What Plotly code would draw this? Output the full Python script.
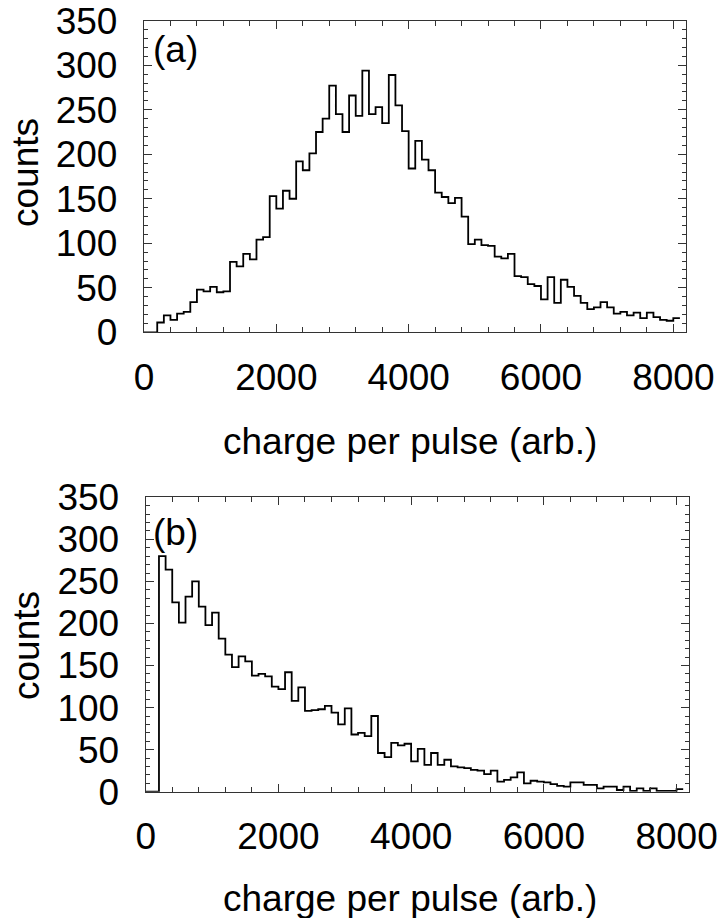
import numpy as np
import plotly.graph_objects as go

# ---- data (counts per 100-unit bin, starting at charge 0) ----
bin_width = 100
counts_a = [0, 0, 11, 19, 14, 21, 23, 34, 48, 46, 51, 45, 46, 79, 74, 88, 82, 104, 107,
            153, 139, 159, 150, 192, 182, 201, 225, 240, 277, 245, 225, 266, 243, 294,
            245, 253, 235, 289, 255, 226, 184, 215, 194, 182, 157, 152, 145, 151, 130,
            99, 104, 98, 97, 85, 83, 88, 63, 62, 54, 52, 37, 62, 33, 59, 51, 41, 33, 26,
            28, 34, 28, 21, 23, 19, 22, 16, 22, 17, 14, 13, 16]
counts_b = [0, 0, 280, 264, 225, 201, 232, 250, 220, 198, 213, 182, 163, 148, 161, 155,
            138, 140, 137, 125, 122, 142, 108, 124, 96, 97, 98, 102, 94, 80, 99, 68, 70,
            66, 90, 46, 41, 58, 55, 57, 36, 51, 32, 46, 32, 38, 30, 29, 28, 26, 25, 21,
            25, 12, 14, 17, 23, 10, 13, 12, 11, 9, 7, 6, 11, 11, 8, 8, 4, 6, 6, 2, 6, 1,
            4, 1, 4, 1, 1, 1, 3]
x_ticks = [0, 2000, 4000, 6000, 8000]
y_ticks = [0, 50, 100, 150, 200, 250, 300, 350]
panel_labels = ["(a)", "(b)"]
x_title = "charge per pulse (arb.)"
y_title = "counts"

W, H = 720, 918
FONT = "Liberation Sans, Arial, Helvetica, sans-serif"
FS = 37
AXC = "#333333"


def step_xy(counts):
    edges = np.arange(len(counts) + 1) * bin_width
    y = list(counts) + [counts[-1]]
    return edges, y


def px_dom_x(a, b):
    return [a / W, b / W]


def px_dom_y(top, bottom):
    return [1 - bottom / H, 1 - top / H]


fig = go.Figure()
for i, c in enumerate([counts_a, counts_b]):
    xs, ys = step_xy(c)
    fig.add_trace(go.Scatter(
        x=xs, y=ys, mode="lines", line=dict(shape="hv", color="black", width=1.8),
        xaxis="x" if i == 0 else "x2", yaxis="y" if i == 0 else "y2",
        showlegend=False, hoverinfo="skip"))

common_x = dict(range=[0, 8192], tickvals=x_ticks, ticks="inside", ticklen=8,
                tickwidth=1, tickcolor=AXC, showline=True, linecolor=AXC, linewidth=1.3,
                mirror="ticks", showgrid=False, zeroline=False, automargin=False,
                minor=dict(dtick=400, tick0=0, ticks="inside", ticklen=5, tickcolor=AXC, tickwidth=1),
                tickfont=dict(family=FONT, size=FS, color="black"), ticklabelstandoff=12)
common_y = dict(range=[0, 350], tickvals=y_ticks, ticks="inside", ticklen=8,
                tickwidth=1, tickcolor=AXC, showline=True, linecolor=AXC, linewidth=1.3,
                mirror="ticks", showgrid=False, zeroline=False, automargin=False,
                minor=dict(dtick=10, tick0=0, ticks="inside", ticklen=4, tickcolor=AXC, tickwidth=1),
                tickfont=dict(family=FONT, size=FS, color="black"), ticklabelstandoff=18)

fig.update_layout(
    width=W, height=H, margin=dict(l=0, r=0, t=0, b=0, autoexpand=False),
    paper_bgcolor="white", plot_bgcolor="white",
    xaxis=dict(domain=px_dom_x(144, 686), anchor="y", **common_x),
    yaxis=dict(domain=px_dom_y(20.7, 332.3), anchor="x", **common_y),
    xaxis2=dict(domain=px_dom_x(145.7, 689.3), anchor="y2", **common_x),
    yaxis2=dict(domain=px_dom_y(497.3, 791.7), anchor="x2", **common_y),
)

ann = []
ann.append(dict(text=panel_labels[0], x=151 / W, y=1 - 50 / H, xref="paper", yref="paper",
                xanchor="left", yanchor="middle", showarrow=False,
                font=dict(family=FONT, size=FS, color="black")))
ann.append(dict(text=panel_labels[1], x=151 / W, y=1 - 532 / H, xref="paper", yref="paper",
                xanchor="left", yanchor="middle", showarrow=False,
                font=dict(family=FONT, size=FS, color="black")))
for yc in [441, 898]:
    ann.append(dict(text=x_title, x=410 / W, y=1 - yc / H, xref="paper", yref="paper",
                    xanchor="center", yanchor="middle", showarrow=False,
                    font=dict(family=FONT, size=FS, color="black")))
for yc in [172, 645]:
    ann.append(dict(text=y_title, x=26 / W, y=1 - yc / H, xref="paper", yref="paper",
                    xanchor="center", yanchor="middle", showarrow=False, textangle=-90,
                    font=dict(family=FONT, size=FS, color="black")))
fig.update_layout(annotations=ann)

fig.write_html("out.html")
